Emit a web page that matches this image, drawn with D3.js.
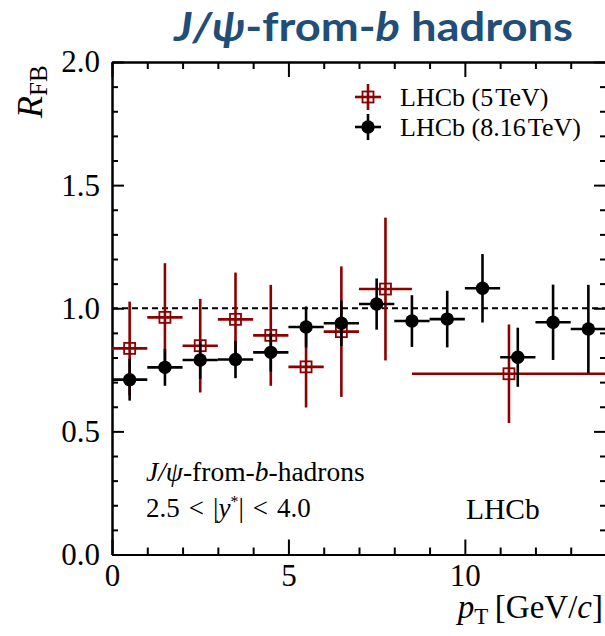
<!DOCTYPE html>
<html><head><meta charset="utf-8">
<script src="https://cdn.jsdelivr.net/npm/d3@7"></script>
<style>body{margin:0;background:#fff}svg{display:block}</style>
</head><body>
<svg id="c" width="605" height="636"></svg>
<script>
// ---- data ----
const bins8Lo = [0,1,2,3,4,5,6,7,8,9,10,11,12,13];
const bins8Hi = [1,2,3,4,5,6,7,8,9,10,11,12,13,14];
const pt8 = [0.5,1.5,2.5,3.5,4.5,5.5,6.5,7.5,8.5,9.5,10.5,11.5,12.5,13.5];
const rfb8 = [0.71,0.76,0.79,0.792,0.821,0.924,0.939,1.017,0.948,0.956,1.081,0.801,0.943,0.916];
const err8 = [0.085,0.075,0.077,0.076,0.078,0.083,0.092,0.104,0.105,0.115,0.139,0.12,0.153,0.179];

const bins5Lo = [0,1,2,3,4,5,6,7,8.5];
const bins5Hi = [1,2,3,4,5,6,7,8.5,14];
const pt5 = [0.5,1.5,2.5,3.5,4.5,5.5,6.5,7.75,11.25];
const rfb5 = [0.837,0.963,0.848,0.955,0.890,0.762,0.905,1.078,0.734];
const err5 = [0.19,0.22,0.19,0.19,0.205,0.165,0.265,0.29,0.2];

const yMajorTicks = [0,0.5,1.0,1.5,2.0];
const xMajorTicks = [0,5,10];
const legendLabels = ["LHCb (5\u200ATeV)", "LHCb (8.16\u200ATeV)"];
const refLine = 1.0;

// ---- layout ----
const RED = "#8b0000", BLUE = "#1f4e79";
const SERIF = "'Liberation Serif','Times New Roman',serif";
const svg = d3.select("#c");
const x = d3.scaleLinear().domain([0,14]).range([112,606]);
const y = d3.scaleLinear().domain([0,2]).range([554.5,62]);
const L = x.range()[0], R = x.range()[1], T = y.range()[1], B = y.range()[0];

// title
const title = svg.append("text").attr("x",174).attr("y",41)
  .attr("font-family","Lato,'Open Sans',sans-serif").attr("font-weight",700)
  .attr("font-size",41).attr("fill",BLUE)
  .attr("textLength",399).attr("lengthAdjust","spacingAndGlyphs");
title.append("tspan").attr("font-style","italic").text("J/\u03C8");
title.append("tspan").text("-from-");
title.append("tspan").attr("font-style","italic").text("b");
title.append("tspan").text(" hadrons");

// axes
const minorY = d3.range(0,2.0001,0.1).filter(v=>!yMajorTicks.some(m=>Math.abs(m-v)<1e-6));
const minorX = d3.range(0,14.0001,1).filter(v=>!xMajorTicks.includes(v));

function styleAxis(g){
  g.selectAll("path.domain").attr("stroke","#000").attr("stroke-width",2);
  g.selectAll(".tick line").attr("stroke","#000").attr("stroke-width",2);
  g.selectAll("text").attr("font-family",SERIF).attr("font-size",31).attr("fill","#000");
}
// left
svg.append("g").attr("transform",`translate(${L},0)`)
  .call(d3.axisLeft(y).tickValues(yMajorTicks).tickFormat(d3.format(".1f")).tickSize(-12).tickSizeOuter(0).tickPadding(12))
  .call(styleAxis);
svg.append("g").attr("transform",`translate(${L},0)`)
  .call(d3.axisLeft(y).tickValues(minorY).tickFormat("").tickSize(-6).tickSizeOuter(0))
  .call(styleAxis);
// right
svg.append("g").attr("transform",`translate(${R},0)`)
  .call(d3.axisRight(y).tickValues(yMajorTicks).tickFormat("").tickSize(-12).tickSizeOuter(0))
  .call(styleAxis);
svg.append("g").attr("transform",`translate(${R},0)`)
  .call(d3.axisRight(y).tickValues(minorY).tickFormat("").tickSize(-6).tickSizeOuter(0))
  .call(styleAxis);
// bottom
const gx = svg.append("g").attr("transform",`translate(0,${B})`)
  .call(d3.axisBottom(x).tickValues(xMajorTicks).tickFormat(d3.format("d")).tickSize(-15).tickSizeOuter(0).tickPadding(9))
  .call(styleAxis);
gx.selectAll("text").attr("dy","0.71em");
svg.append("g").attr("transform",`translate(0,${B})`)
  .call(d3.axisBottom(x).tickValues(minorX).tickFormat("").tickSize(-7).tickSizeOuter(0))
  .call(styleAxis);
// top
svg.append("g").attr("transform",`translate(0,${T})`)
  .call(d3.axisTop(x).tickValues(xMajorTicks).tickFormat("").tickSize(-15).tickSizeOuter(0))
  .call(styleAxis);
svg.append("g").attr("transform",`translate(0,${T})`)
  .call(d3.axisTop(x).tickValues(minorX).tickFormat("").tickSize(-7).tickSizeOuter(0))
  .call(styleAxis);

// reference dashed line
svg.append("line").attr("x1",L).attr("x2",R).attr("y1",y(refLine)).attr("y2",y(refLine))
  .attr("stroke","#000").attr("stroke-width",2).attr("stroke-dasharray","6,4");

// series drawing
function drawSeries(lo,hi,pt,val,err,color,marker){
  const g = svg.append("g");
  const data = val.map((v,i)=>({lo:lo[i],hi:hi[i],pt:pt[i],v,e:err[i]}));
  g.selectAll("line.v").data(data).join("line")
    .attr("x1",d=>x(d.pt)).attr("x2",d=>x(d.pt))
    .attr("y1",d=>y(d.v-d.e)).attr("y2",d=>y(d.v+d.e))
    .attr("stroke",color).attr("stroke-width",2.6);
  g.selectAll("line.h").data(data).join("line")
    .attr("x1",d=>x(d.lo)).attr("x2",d=>x(d.hi))
    .attr("y1",d=>y(d.v)).attr("y2",d=>y(d.v))
    .attr("stroke",color).attr("stroke-width",2.6);
  if(marker==="square"){
    g.selectAll("rect").data(data).join("rect")
      .attr("x",d=>x(d.pt)-5.5).attr("y",d=>y(d.v)-5.5)
      .attr("width",11).attr("height",11)
      .attr("fill","none").attr("stroke",color).attr("stroke-width",1.8);
  } else {
    g.selectAll("circle").data(data).join("circle")
      .attr("cx",d=>x(d.pt)).attr("cy",d=>y(d.v)).attr("r",6.7).attr("fill",color);
  }
}
drawSeries(bins5Lo,bins5Hi,pt5,rfb5,err5,RED,"square");
drawSeries(bins8Lo,bins8Hi,pt8,rfb8,err8,"#000","circle");

// legend
const legend = svg.append("g");
const legY = [97,127];
const legColors = [RED,"#000"];
legendLabels.forEach((lab,i)=>{
  const cx = 368, cy = legY[i];
  legend.append("line").attr("x1",cx).attr("x2",cx).attr("y1",cy-13).attr("y2",cy+13)
    .attr("stroke",legColors[i]).attr("stroke-width",2.6);
  legend.append("line").attr("x1",cx-13).attr("x2",cx+13).attr("y1",cy).attr("y2",cy)
    .attr("stroke",legColors[i]).attr("stroke-width",2.6);
  if(i===0){
    legend.append("rect").attr("x",cx-5.5).attr("y",cy-5.5).attr("width",11).attr("height",11)
      .attr("fill","none").attr("stroke",RED).attr("stroke-width",1.8);
  } else {
    legend.append("circle").attr("cx",cx).attr("cy",cy).attr("r",6.7).attr("fill","#000");
  }
  legend.append("text").attr("x",400).attr("y",cy+8.5)
    .attr("font-family",SERIF).attr("font-size",26).attr("fill","#000").text(lab);
});

// annotations
const a1 = svg.append("text").attr("x",146).attr("y",481)
  .attr("font-family",SERIF).attr("font-size",27.5).attr("fill","#000");
a1.append("tspan").attr("font-style","italic").text("J/\u03C8");
a1.append("tspan").text("-from-");
a1.append("tspan").attr("font-style","italic").text("b");
a1.append("tspan").text("-hadrons");

const a2 = svg.append("text").attr("x",146).attr("y",517)
  .attr("font-family",SERIF).attr("font-size",27).attr("fill","#000");
a2.append("tspan").text("2.5\u2004<\u2004|");
a2.append("tspan").attr("font-style","italic").text("y");
a2.append("tspan").attr("font-size",16).attr("dy",-10).text("*");
a2.append("tspan").attr("dy",10).text("|\u2004<\u20044.0");

svg.append("text").attr("x",466).attr("y",519)
  .attr("font-family",SERIF).attr("font-size",29.5).attr("fill","#000").text("LHCb");

// axis titles
const xt = svg.append("text").attr("x",603).attr("y",618).attr("text-anchor","end")
  .attr("font-family",SERIF).attr("font-size",33).attr("fill","#000");
xt.append("tspan").attr("font-style","italic").text("p");
xt.append("tspan").attr("font-size",23).attr("dy",6).text("T");
xt.append("tspan").attr("dy",-6).text("\u2009[GeV/");
xt.append("tspan").attr("font-style","italic").text("c");
xt.append("tspan").text("]");

const yt = svg.append("text").attr("transform","translate(42,118) rotate(-90)")
  .attr("font-family",SERIF).attr("font-size",36).attr("fill","#000");
yt.append("tspan").attr("font-style","italic").text("R");
yt.append("tspan").attr("font-size",25).attr("dy",5).text("FB");
</script>
</body></html>
